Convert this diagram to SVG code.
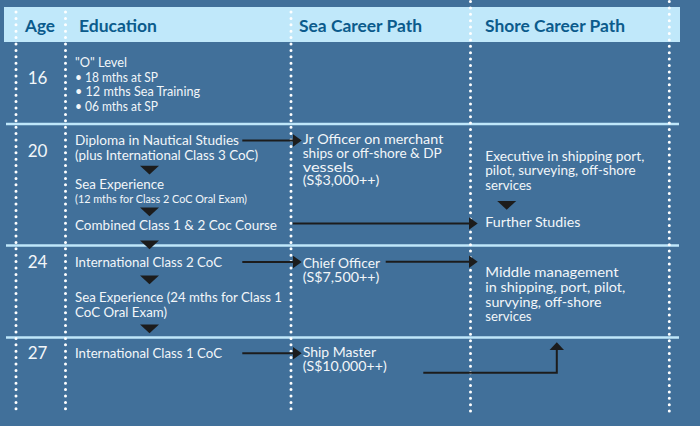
<svg xmlns="http://www.w3.org/2000/svg" xmlns:xlink="http://www.w3.org/1999/xlink" width="700" height="426" viewBox="0 0 700 426">
<style>
.hd{font-family:Lato,"Liberation Sans",sans-serif;font-weight:700;font-size:17px;fill:#0b5b8c}
.age{font-family:Lato,"Liberation Sans",sans-serif;font-weight:400;font-size:17px;fill:#f2f6f9}
.t{font-family:Lato,"Liberation Sans",sans-serif;font-weight:400;font-size:13.5px;fill:#f2f6f9}
.s{font-family:Lato,"Liberation Sans",sans-serif;font-weight:400;font-size:11px;fill:#f2f6f9}
.dot{stroke:#ffffff;stroke-width:3;stroke-linecap:round;stroke-dasharray:0 6.4;fill:none}
.rule{stroke:#bfe7fa;stroke-width:2.5}
.ln{stroke:#1c1c1c;stroke-width:2;fill:none}
.tri{fill:#1c1c1c}
</style>
<defs>
<marker id="ah" markerUnits="userSpaceOnUse" viewBox="0 0 9 13" markerWidth="9" markerHeight="13" refX="6" refY="6.5" orient="auto"><path d="M0,0 L9,6.5 L0,13 z" fill="#1c1c1c"/></marker>
<marker id="ahw" markerUnits="userSpaceOnUse" viewBox="0 0 8 15" markerWidth="8" markerHeight="15" refX="5" refY="7.5" orient="auto"><path d="M0,0 L8,7.5 L0,15 z" fill="#1c1c1c"/></marker>
<path id="tri" d="M-9.5,0 L9.5,0 L0,8.7 z"/>
</defs>
<rect x="0" y="0" width="700" height="426" fill="#41709a"/>
<g id="header">
<rect x="4" y="7" width="676" height="35" fill="#c0e8fa"/>
<text class="hd" x="25" y="32" textLength="30" lengthAdjust="spacingAndGlyphs">Age</text>
<text class="hd" x="79" y="32" textLength="78" lengthAdjust="spacingAndGlyphs">Education</text>
<text class="hd" x="299" y="32" textLength="123" lengthAdjust="spacingAndGlyphs">Sea Career Path</text>
<text class="hd" x="485" y="32" textLength="140" lengthAdjust="spacingAndGlyphs">Shore Career Path</text>
</g>
<g id="grid">
<line class="rule" x1="6" y1="124" x2="679" y2="124"/>
<line class="rule" x1="6" y1="245.5" x2="679" y2="245.5"/>
<line class="rule" x1="6" y1="337.5" x2="679" y2="337.5"/>
<line class="dot" x1="16" y1="12" x2="16" y2="413"/>
<line class="dot" x1="65.5" y1="12" x2="65.5" y2="413"/>
<line class="dot" x1="291" y1="12" x2="291" y2="413"/>
<line class="dot" x1="470.5" y1="1.5" x2="470.5" y2="413"/>
<line class="dot" x1="669.3" y1="1.5" x2="669.3" y2="413"/>
</g>
<g id="ages">
<text class="age" x="27.7" y="84">16</text>
<text class="age" x="27.7" y="157.3">20</text>
<text class="age" x="27.7" y="268.3">24</text>
<text class="age" x="27.7" y="359.3">27</text>
</g>
<g id="edu-olevel">
<text class="t" x="75" y="66.7" textLength="52" lengthAdjust="spacingAndGlyphs">"O" Level</text>
<text class="t" x="75" y="81.5" textLength="83" lengthAdjust="spacingAndGlyphs">• 18 mths at SP</text>
<text class="t" x="75" y="96.3" textLength="125" lengthAdjust="spacingAndGlyphs">• 12 mths Sea Training</text>
<text class="t" x="75" y="111" textLength="83" lengthAdjust="spacingAndGlyphs">• 06 mths at SP</text>
</g>
<g id="edu-diploma">
<text class="t" x="75" y="145" textLength="164" lengthAdjust="spacingAndGlyphs">Diploma in Nautical Studies</text>
<text class="t" x="75" y="159.5" textLength="183" lengthAdjust="spacingAndGlyphs">(plus International Class 3 CoC)</text>
</g>
<g id="edu-sea1">
<text class="t" x="75" y="189" textLength="89" lengthAdjust="spacingAndGlyphs">Sea Experience</text>
<text class="s" x="75" y="203.3" textLength="172" lengthAdjust="spacingAndGlyphs">(12 mths for Class 2 CoC Oral Exam)</text>
</g>
<g id="edu-combined">
<text class="t" x="75" y="230" textLength="202" lengthAdjust="spacingAndGlyphs">Combined Class 1 &amp; 2 Coc Course</text>
</g>
<g id="edu-class2">
<text class="t" x="75" y="266.7" textLength="147" lengthAdjust="spacingAndGlyphs">International Class 2 CoC</text>
</g>
<g id="edu-sea2">
<text class="t" x="75" y="302.3" textLength="207" lengthAdjust="spacingAndGlyphs">Sea Experience (24 mths for Class 1</text>
<text class="t" x="75" y="316.7" textLength="92" lengthAdjust="spacingAndGlyphs">CoC Oral Exam)</text>
</g>
<g id="edu-class1">
<text class="t" x="75" y="358.3" textLength="147" lengthAdjust="spacingAndGlyphs">International Class 1 CoC</text>
</g>
<g id="sea-jr">
<text class="t" x="302.7" y="144.3" textLength="140.6" lengthAdjust="spacingAndGlyphs">Jr Officer on merchant</text>
<text class="t" x="302.7" y="158" textLength="139" lengthAdjust="spacingAndGlyphs">ships or off-shore &amp; DP</text>
<text class="t" x="302.7" y="171.7" textLength="50.7" lengthAdjust="spacingAndGlyphs">vessels</text>
<text class="t" x="302.7" y="185.3" textLength="76.7" lengthAdjust="spacingAndGlyphs">(S$3,000++)</text>
</g>
<g id="sea-chief">
<text class="t" x="302.7" y="268.3" textLength="77.3" lengthAdjust="spacingAndGlyphs">Chief Officer</text>
<text class="t" x="302.7" y="281.7" textLength="76.7" lengthAdjust="spacingAndGlyphs">(S$7,500++)</text>
</g>
<g id="sea-master">
<text class="t" x="302.7" y="357.3" textLength="73.3" lengthAdjust="spacingAndGlyphs">Ship Master</text>
<text class="t" x="302.7" y="370.7" textLength="84" lengthAdjust="spacingAndGlyphs">(S$10,000++)</text>
</g>
<g id="shore-exec">
<text class="t" x="485.3" y="160.7" textLength="159" lengthAdjust="spacingAndGlyphs">Executive in shipping port,</text>
<text class="t" x="485.3" y="175.2" textLength="150.4" lengthAdjust="spacingAndGlyphs">pilot, surveying, off-shore</text>
<text class="t" x="485.3" y="189.7" textLength="46.3" lengthAdjust="spacingAndGlyphs">services</text>
</g>
<g id="shore-further">
<text class="t" x="485.3" y="226.7" textLength="95" lengthAdjust="spacingAndGlyphs">Further Studies</text>
</g>
<g id="shore-middle">
<text class="t" x="485.3" y="277.3" textLength="133.3" lengthAdjust="spacingAndGlyphs">Middle management</text>
<text class="t" x="485.3" y="292" textLength="140" lengthAdjust="spacingAndGlyphs">in shipping, port, pilot,</text>
<text class="t" x="485.3" y="306.5" textLength="116.3" lengthAdjust="spacingAndGlyphs">survying, off-shore</text>
<text class="t" x="485.3" y="321.3" textLength="46.3" lengthAdjust="spacingAndGlyphs">services</text>
</g>
<g id="connectors">
<use xlink:href="#tri" href="#tri" class="tri" x="149.5" y="165.7"/>
<use xlink:href="#tri" href="#tri" class="tri" x="149.5" y="207.5"/>
<use xlink:href="#tri" href="#tri" class="tri" x="149.5" y="240.5"/>
<use xlink:href="#tri" href="#tri" class="tri" x="149.5" y="275.6"/>
<use xlink:href="#tri" href="#tri" class="tri" x="149.5" y="324.6"/>
<use xlink:href="#tri" href="#tri" class="tri" x="506.7" y="201"/>
<line class="ln" x1="242.3" y1="140.5" x2="298.7" y2="140.5" marker-end="url(#ah)"/>
<line class="ln" x1="292.7" y1="223.5" x2="474.7" y2="223.5" marker-end="url(#ah)"/>
<line class="ln" x1="242.3" y1="262" x2="298.7" y2="262" marker-end="url(#ah)"/>
<line class="ln" x1="385.7" y1="261.7" x2="474.7" y2="261.7" marker-end="url(#ah)"/>
<line class="ln" x1="242.3" y1="353.3" x2="298.7" y2="353.3" marker-end="url(#ah)"/>
<path class="ln" d="M423.3,372.7 H556.8 V345.3" marker-end="url(#ahw)"/>
</g>
</svg>
